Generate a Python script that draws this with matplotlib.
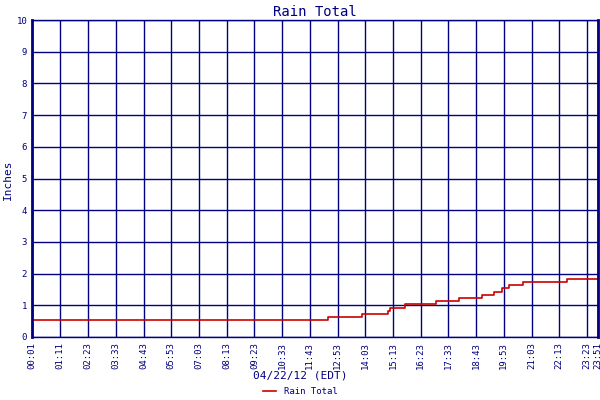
import matplotlib
matplotlib.use("Agg")
import matplotlib.pyplot as plt

navy = "#000080"
red = "#cc0000"

tick_labels = ["00:01", "01:11", "02:23", "03:33", "04:43", "05:53", "07:03", "08:13",
               "09:23", "10:33", "11:43", "12:53", "14:03", "15:13", "16:23", "17:33",
               "18:43", "19:53", "21:03", "22:13", "23:23", "23:51"]
tick_minutes = [int(t[:2]) * 60 + int(t[3:]) for t in tick_labels]

# step times (minutes after midnight) and rain totals (inches)
step_minutes = [1, 748, 835, 900, 906, 944, 1022, 1081, 1137, 1167, 1188, 1206, 1241, 1352, 1431]
rain_total = [0.54, 0.62, 0.72, 0.82, 0.93, 1.03, 1.13, 1.23, 1.33, 1.43, 1.53, 1.63, 1.73, 1.83, 1.83]

plt.rcParams['font.family'] = ['DejaVu Sans Mono']
fig = plt.figure(figsize=(6, 4), dpi=100)
ax = fig.add_axes([32/600, 63/400, 566/600, 317/400])

ax.plot(step_minutes, rain_total, drawstyle="steps-post", color=red, lw=1.2, label="Rain Total")
ax.set_xlim(tick_minutes[0], tick_minutes[-1])
ax.set_ylim(0, 10)
ax.set_xticks(tick_minutes)
ax.set_xticklabels(tick_labels, rotation=90, fontsize=6.5, color=navy)
ax.set_yticks(range(11))
ax.tick_params(axis="y", labelsize=6.5, colors=navy, length=0)
ax.tick_params(axis="x", colors=navy, length=0)
ax.grid(True, color=navy, lw=1.0)
for s in ax.spines.values():
    s.set_color(navy)
    s.set_linewidth(1.0)
ax.spines["left"].set_linewidth(2)
ax.spines["right"].set_linewidth(2)

ax.set_title("Rain Total", color=navy, fontsize=10, pad=3)
fig.text(8/600, 0.55, "Inches", color=navy, fontsize=8, rotation=90, ha="center", va="center")
fig.text(0.5, 22/400, "04/22/12 (EDT)", color=navy, fontsize=8, ha="center")
fig.legend(loc="lower center", bbox_to_anchor=(0.5, -0.01), frameon=False, fontsize=6.5,
           labelcolor=navy, handlelength=1.5)

fig.savefig("out.png", dpi=100)
